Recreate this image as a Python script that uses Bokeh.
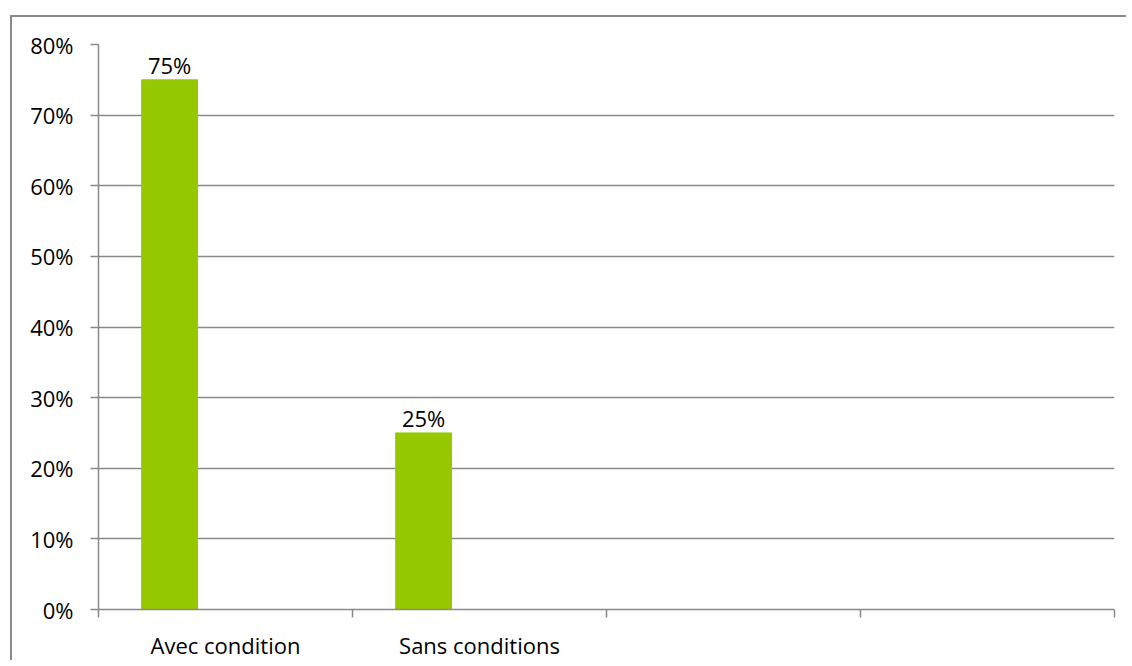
from bokeh.plotting import figure
from bokeh.models import ColumnDataSource, FixedTicker, NumeralTickFormatter, Range1d
from bokeh.core.properties import value
from bokeh.embed import file_html
from bokeh.resources import INLINE

categories = ["Avec condition", "Sans conditions", "", ""]
values = [0.75, 0.25]
value_labels = ["75%", "25%"]
y_ticks = [0, 0.1, 0.2, 0.3, 0.4, 0.5, 0.6, 0.7, 0.8]

FONT = "Open Sans"
FS = "22px"
GRID = "#898989"

xs = [i + 0.28 for i in range(len(values))]
src = ColumnDataSource(dict(x=xs, top=values, lab=value_labels))

p = figure(width=1116, height=645, output_backend="svg", toolbar_location=None,
           x_range=Range1d(0, 4), y_range=Range1d(0, 0.8),
           min_border_left=86, min_border_right=14, min_border_top=27, min_border_bottom=52,
           styles={"margin-left": "10px", "margin-top": "15px",
                   "border-left": "2px solid #8a8a8a", "border-top": "2px solid #8a8a8a"})
p.outline_line_color = None
p.background_fill_color = "white"
p.border_fill_color = "white"

p.vbar(x="x", top="top", width=0.22, bottom=0, source=src, color="#96C800")
p.text(x="x", y="top", text="lab", source=src, text_align="center", text_baseline="bottom",
       y_offset=0, text_font=value(FONT), text_font_size=FS, text_color="black")

p.xgrid.grid_line_color = None
p.ygrid.grid_line_color = GRID
p.ygrid.grid_line_width = 1.5
p.ygrid.ticker = FixedTicker(ticks=y_ticks)

xa = p.xaxis[0]
xa.ticker = FixedTicker(ticks=[i + 0.5 for i in range(len(categories))],
                        minor_ticks=list(range(len(categories) + 1)))
xa.major_label_overrides = {i + 0.5: c for i, c in enumerate(categories)}
xa.major_tick_line_color = None
xa.minor_tick_line_color = GRID
xa.minor_tick_line_width = 1.5
xa.minor_tick_out = 8
xa.minor_tick_in = 0
xa.axis_line_color = GRID
xa.axis_line_width = 1.5
xa.major_label_standoff = 12
xa.major_label_text_font = FONT
xa.major_label_text_font_size = FS
xa.major_label_text_color = "black"

ya = p.yaxis[0]
ya.ticker = FixedTicker(ticks=y_ticks)
ya.formatter = NumeralTickFormatter(format="0%")
ya.major_tick_line_color = GRID
ya.major_tick_line_width = 1.5
ya.major_tick_out = 8
ya.major_tick_in = 0
ya.minor_tick_line_color = None
ya.axis_line_color = GRID
ya.axis_line_width = 1.5
ya.major_label_standoff = 17
ya.major_label_text_font = FONT
ya.major_label_text_font_size = FS
ya.major_label_text_color = "black"

open("out.html", "w").write(file_html(p, INLINE))
